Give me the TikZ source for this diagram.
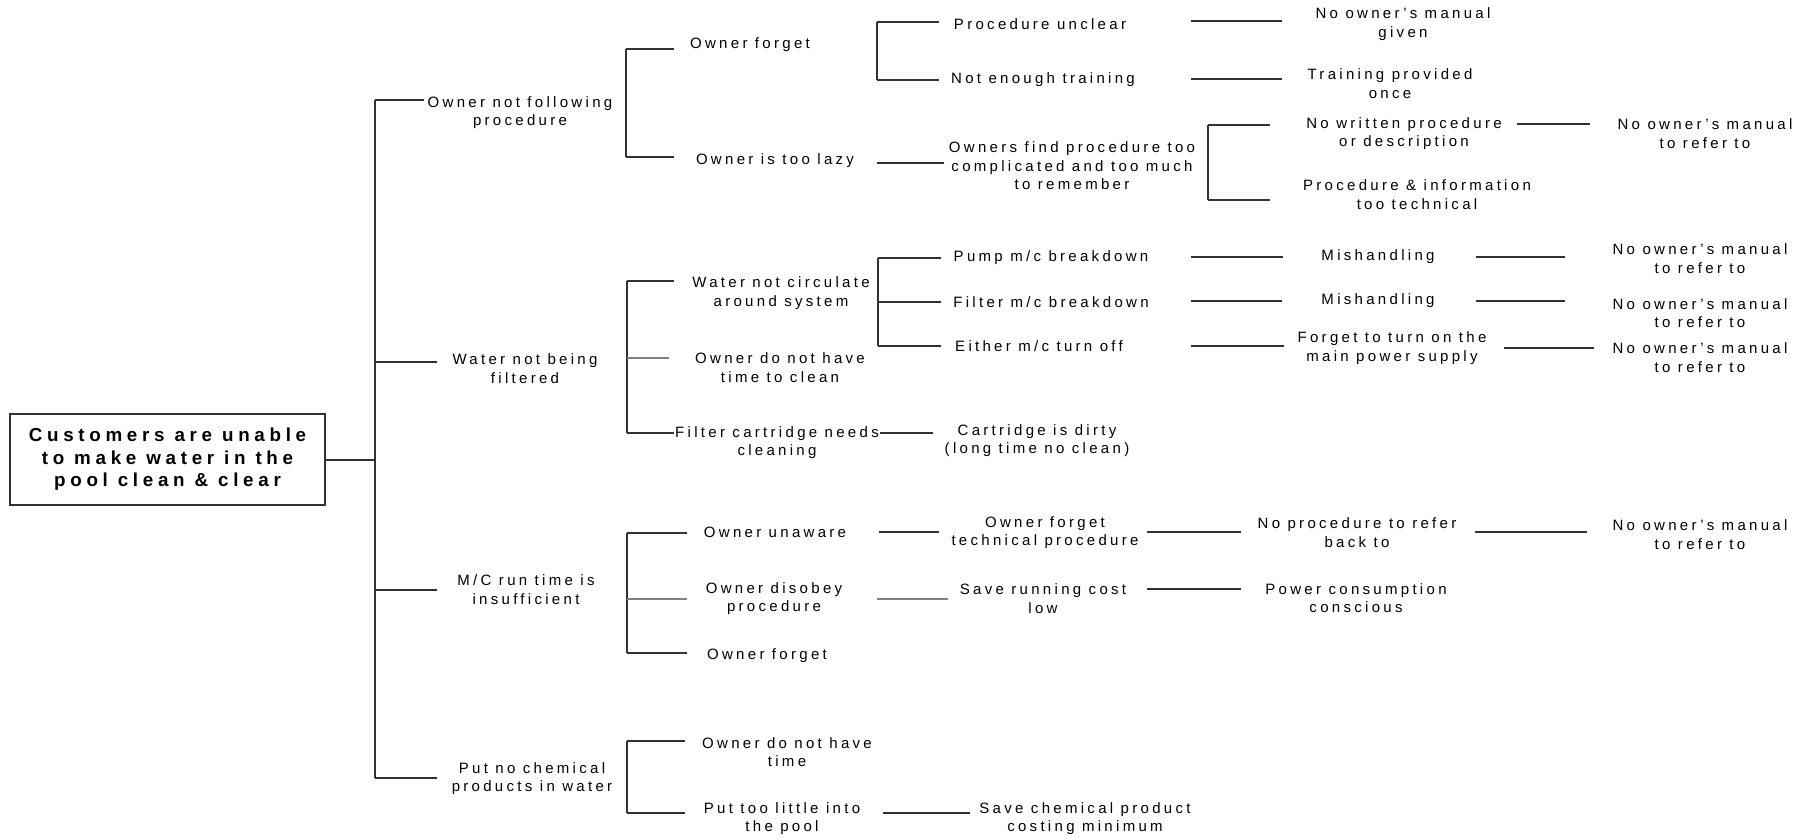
\documentclass[tikz,border=0pt]{standalone}
\usepackage{fontspec}
\newfontfamily\diagfont{Liberation Sans}[LetterSpace=22]
\newfontfamily\headfont{Liberation Sans}[LetterSpace=25]
\newcommand\lblfont{\diagfont\fontsize{15}{18.5}\selectfont}
\newcommand\rootfont{\headfont\bfseries\fontsize{18.8}{22.5}\selectfont}
\begin{document}
\begin{tikzpicture}[x=1pt,y=-1pt,
  lbl/.style={font=\lblfont, align=center, inner sep=0pt},
  link/.style={line width=1.3pt, draw=black!80},
  rootbox/.style={draw=black!80, line width=1.3pt, font=\rootfont, align=center,
    minimum width=315pt, minimum height=91pt, inner sep=0pt}]
\useasboundingbox (0,0) rectangle (1820,838);

% ---- effect ----
\node[rootbox] (root) at (167.5,459.5) {Customers are unable\\to make water in the\\pool clean \& clear};

% ---- main causes ----
\node[lbl] (n1) at (520,112.5) {Owner not following\\procedure};
\node[lbl] (n2) at (525,368.5) {Water not being\\filtered};
\node[lbl] (n3) at (526,589.5) {M/C run time is\\insufficient};
\node[lbl] (n4) at (532,778.5) {Put no chemical\\products in water};

% ---- second level ----
\node[lbl] (a1) at (750,45) {Owner forget};
\node[lbl] (a2) at (775,161) {Owner is too lazy};
\node[lbl] (b1) at (781,293) {Water not circulate\\around system};
\node[lbl] (b2) at (780,367.5) {Owner do not have\\time to clean};
\node[lbl] (b3) at (777,442.5) {Filter cartridge needs\\cleaning};
\node[lbl] (c1) at (775,532) {Owner unaware};
\node[lbl] (c2) at (774,598.5) {Owner disobey\\procedure};
\node[lbl] (c3) at (767,656) {Owner forget};
\node[lbl] (d1) at (787,752) {Owner do not have\\time};
\node[lbl] (d2) at (782,818.5) {Put too little into\\the pool};

% ---- third level ----
\node[lbl] (e1) at (1040,24) {Procedure unclear};
\node[lbl] (e2) at (1043,80) {Not enough training};
\node[lbl] (e3) at (1072,166) {Owners find procedure too\\complicated and too much\\to remember};
\node[lbl] (f1) at (1051,258) {Pump m/c breakdown};
\node[lbl] (f2) at (1051,302) {Filter m/c breakdown};
\node[lbl] (f3) at (1039,346) {Either m/c turn off};
\node[lbl] (f4) at (1037,440.5) {Cartridge is dirty\\(long time no clean)};
\node[lbl] (g1) at (1045,532.5) {Owner forget\\technical procedure};
\node[lbl] (g2) at (1043,598.5) {Save running cost\\low};
\node[lbl] (h1) at (1085,818.5) {Save chemical product\\costing minimum};

% ---- fourth level ----
\node[lbl] (i1) at (1403,24) {No owner’s manual\\given};
\node[lbl] (i2) at (1390,83.5) {Training provided\\once};
\node[lbl] (i3) at (1404,133.5) {No written procedure\\or description};
\node[lbl] (i4) at (1417,194.5) {Procedure \& information\\too technical};
\node[lbl] (j1) at (1378,257) {Mishandling};
\node[lbl] (j2) at (1378,301) {Mishandling};
\node[lbl] (j3) at (1392,348) {Forget to turn on the\\main power supply};
\node[lbl] (k1) at (1357,532.5) {No procedure to refer\\back to};
\node[lbl] (k2) at (1356,598) {Power consumption\\conscious};

% ---- fifth level ----
\node[lbl] (m1) at (1705,133.5) {No owner’s manual\\to refer to};
\node[lbl] (m2) at (1700,258.5) {No owner’s manual\\to refer to};
\node[lbl] (m3) at (1700,313) {No owner’s manual\\to refer to};
\node[lbl] (m4) at (1700,357.5) {No owner’s manual\\to refer to};
\node[lbl] (m5) at (1700,534.5) {No owner’s manual\\to refer to};

% ---- junction points ----
\coordinate (trunk) at (375,460);
\coordinate (t1) at (375,100);  \coordinate (t1e) at (424,100);
\coordinate (t2) at (375,362);  \coordinate (t2e) at (437,362);
\coordinate (t3) at (375,590);  \coordinate (t3e) at (437,590);
\coordinate (t4) at (375,778);  \coordinate (t4e) at (437,778);

\coordinate (sa1) at (626,49);  \coordinate (sa2) at (626,157);
\coordinate (se1) at (877,22);  \coordinate (se2) at (877,80);
\coordinate (sb1) at (1208,125); \coordinate (sb2) at (1208,200);
\coordinate (sw1) at (627,281); \coordinate (sw2) at (627,358); \coordinate (sw3) at (627,433);
\coordinate (sf1) at (878,258); \coordinate (sf2) at (878,302); \coordinate (sf3) at (878,346);
\coordinate (sc1) at (627,533); \coordinate (sc2) at (627,599); \coordinate (sc3) at (627,653);
\coordinate (sd1) at (627,741); \coordinate (sd2) at (627,813);

% ---- spine and first level ----
\draw[link] (root.east |- trunk) -- (trunk);
\draw[link] (t1) -- (t4);
\draw[link] (t1) -- (t1e);
\draw[link] (t2) -- (t2e);
\draw[link] (t3) -- (t3e);
\draw[link] (t4) -- (t4e);

% ---- owner not following procedure ----
\draw[link] (sa1) -- (sa2);
\draw[link] (sa1) -- ++(48,0);
\draw[link] (sa2) -- ++(48,0);
\draw[link] (se1) -- (se2);
\draw[link] (se1) -- ++(62,0);
\draw[link] (se2) -- ++(62,0);
\coordinate (p1) at (1191,21);  \draw[link] (p1) -- ++(91,0);
\coordinate (p2) at (1191,79);  \draw[link] (p2) -- ++(91,0);
\coordinate (p3) at (877,163);  \draw[link] (p3) -- ++(67,0);
\draw[link] (sb1) -- (sb2);
\draw[link] (sb1) -- ++(62,0);
\draw[link] (sb2) -- ++(62,0);
\coordinate (p4) at (1517,124); \draw[link] (p4) -- ++(73,0);

% ---- water not being filtered ----
\draw[link] (sw1) -- (sw3);
\draw[link] (sw1) -- ++(47,0);
\draw[link, draw=black!50] (sw2) -- ++(42,0);
\draw[link] (sw3) -- ++(47,0);
\draw[link] (sf1) -- (sf3);
\draw[link] (sf1) -- ++(63,0);
\draw[link] (sf2) -- ++(63,0);
\draw[link] (sf3) -- ++(63,0);
\coordinate (q1) at (1191,257); \draw[link] (q1) -- ++(92,0);
\coordinate (q2) at (1476,257); \draw[link] (q2) -- ++(89,0);
\coordinate (q3) at (1191,301); \draw[link] (q3) -- ++(91,0);
\coordinate (q4) at (1476,301); \draw[link] (q4) -- ++(89,0);
\coordinate (q5) at (1191,346); \draw[link] (q5) -- ++(93,0);
\coordinate (q6) at (1504,348); \draw[link] (q6) -- ++(90,0);
\coordinate (q7) at (880,433);  \draw[link] (q7) -- ++(53,0);

% ---- m/c run time is insufficient ----
\draw[link] (sc1) -- (sc3);
\draw[link] (sc1) -- ++(60,0);
\draw[link, draw=black!50] (sc2) -- ++(60,0);
\draw[link] (sc3) -- ++(60,0);
\coordinate (r1) at (879,532);  \draw[link] (r1) -- ++(60,0);
\coordinate (r2) at (1147,532); \draw[link] (r2) -- ++(94,0);
\coordinate (r3) at (1475,532); \draw[link] (r3) -- ++(112,0);
\coordinate (r4) at (877,599);  \draw[link, draw=black!50] (r4) -- ++(71,0);
\coordinate (r5) at (1147,589); \draw[link] (r5) -- ++(94,0);

% ---- put no chemical products in water ----
\draw[link] (sd1) -- (sd2);
\draw[link] (sd1) -- ++(58,0);
\draw[link] (sd2) -- ++(58,0);
\coordinate (s1) at (883,813);  \draw[link] (s1) -- ++(87,0);
\end{tikzpicture}
\end{document}
